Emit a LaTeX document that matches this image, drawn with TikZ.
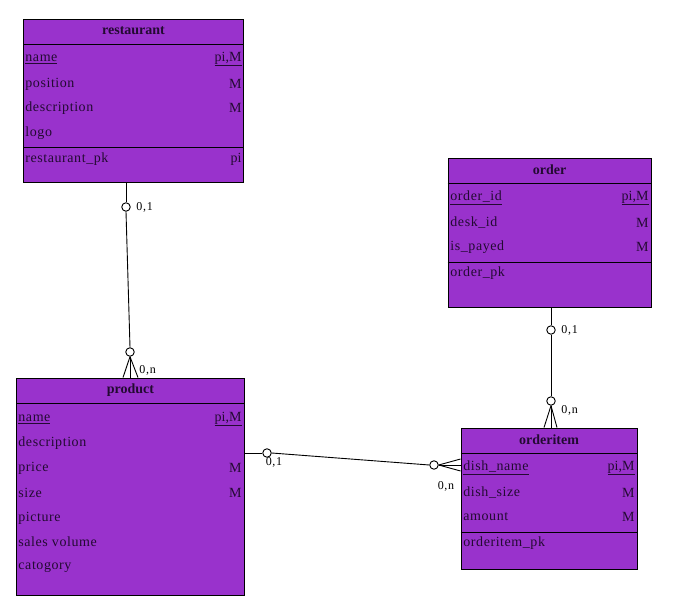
\documentclass[tikz,border=0pt]{standalone}
\usepackage{fontspec}
\setmainfont{Liberation Serif}
\usetikzlibrary{positioning, calc}
\definecolor{entityfill}{RGB}{153,50,204}
\definecolor{entitytext}{RGB}{35,10,50}

\begin{document}
\begin{tikzpicture}[x=1pt, y=-1pt, line width=0.9pt,
      entity/.style={draw=black, fill=entityfill, inner sep=0pt},
      title/.style={inner sep=0pt, font=\fontsize{14}{16}\selectfont\bfseries, text=entitytext},
      attr/.style={anchor=west, inner sep=0pt, yshift=-1pt, font=\fontsize{14}{16}\selectfont\addfontfeature{LetterSpace=4}, text=entitytext},
      key/.style={anchor=east, inner sep=0pt, yshift=-1pt, font=\fontsize{14}{16}\selectfont, text=entitytext},
      card/.style={draw, circle, fill=white, minimum size=8.5pt, inner sep=0pt},
      lbl/.style={inner sep=0pt, font=\fontsize{12}{14}\selectfont\addfontfeature{LetterSpace=6}}
    ]
    \useasboundingbox (0,0) rectangle (678,599);

    % restaurant
    \node[entity, minimum width=220, minimum height=163] (restaurant) at (133.5,100.5) {};
    \node[title] (restaurant-t) at (133.5,31) {restaurant};
    \draw (restaurant.west |- 0,44) -- (restaurant.east |- 0,44);
    \draw (restaurant.west |- 0,147) -- (restaurant.east |- 0,147);
    \node[attr] (restaurant-a1) at (25,58) {\underline{name}};
    \node[key]  (restaurant-k1) at (242,58) {\underline{pi,M}};
    \node[attr] (restaurant-a2) at (25,83) {position};
    \node[key]  (restaurant-k2) at (242,83) {M};
    \node[attr] (restaurant-a3) at (25,107) {description};
    \node[key]  (restaurant-k3) at (242,107) {M};
    \node[attr] (restaurant-a4) at (25,132) {logo};
    \node[attr] (restaurant-a5) at (25,158) {restaurant\_pk};
    \node[key]  (restaurant-k5) at (242,158) {pi};

    % order
    \node[entity, minimum width=203, minimum height=149] (order) at (549.5,232.5) {};
    \node[title] (order-t) at (549.5,170) {order};
    \draw (order.west |- 0,183) -- (order.east |- 0,183);
    \draw (order.west |- 0,262) -- (order.east |- 0,262);
    \node[attr] (order-a1) at (450,197) {\underline{order\_id}};
    \node[key]  (order-k1) at (649,197) {\underline{pi,M}};
    \node[attr] (order-a2) at (450,222) {desk\_id};
    \node[key]  (order-k2) at (649,222) {M};
    \node[attr] (order-a3) at (450,246) {is\_payed};
    \node[key]  (order-k3) at (649,246) {M};
    \node[attr] (order-a4) at (450,272) {order\_pk};

    % product
    \node[entity, minimum width=228, minimum height=217] (product) at (130.5,486.5) {};
    \node[title] (product-t) at (130.5,390) {product};
    \draw (product.west |- 0,403) -- (product.east |- 0,403);
    \node[attr] (product-a1) at (18,418) {\underline{name}};
    \node[key]  (product-k1) at (242,418) {\underline{pi,M}};
    \node[attr] (product-a2) at (18,442) {description};
    \node[attr] (product-a3) at (18,467) {price};
    \node[key]  (product-k3) at (242,467) {M};
    \node[attr] (product-a4) at (18,492) {size};
    \node[key]  (product-k4) at (242,492) {M};
    \node[attr] (product-a5) at (18,517) {picture};
    \node[attr] (product-a6) at (18,541) {sales volume};
    \node[attr] (product-a7) at (18,566) {catogory};

    % orderitem
    \node[entity, minimum width=176, minimum height=141] (orderitem) at (549,498.5) {};
    \node[title] (orderitem-t) at (549,440) {orderitem};
    \draw (orderitem.west |- 0,453) -- (orderitem.east |- 0,453);
    \draw (orderitem.west |- 0,532) -- (orderitem.east |- 0,532);
    \node[attr] (orderitem-a1) at (463,467) {\underline{dish\_name}};
    \node[key]  (orderitem-k1) at (635,467) {\underline{pi,M}};
    \node[attr] (orderitem-a2) at (463,492) {dish\_size};
    \node[key]  (orderitem-k2) at (635,492) {M};
    \node[attr] (orderitem-a3) at (463,516) {amount};
    \node[key]  (orderitem-k3) at (635,516) {M};
    \node[attr] (orderitem-a4) at (463,542) {orderitem\_pk};

    % restaurant - product
    \node[card] (rp1) at (126,207) {};
    \node[card] (rp2) at (130,352) {};
    \node[lbl, anchor=west] (rp1-l) at (136,207) {0,1};
    \node[lbl, anchor=west] (rp2-l) at (139,370) {0,n};
    \draw (restaurant.south -| rp1) -- (rp1.north);
    \draw (rp1.south) -- (rp2.north);
    \draw (rp2.south) -- (rp2.south |- product.north);
    \draw (rp2.south) -- ([xshift=-7pt]rp2.south |- product.north);
    \draw (rp2.south) -- ([xshift=8pt]rp2.south |- product.north);

    % order - orderitem
    \node[card] (oo1) at (551,330) {};
    \node[card] (oo2) at (551,401) {};
    \node[lbl, anchor=west] (oo1-l) at (561,330) {0,1};
    \node[lbl, anchor=west] (oo2-l) at (561,410) {0,n};
    \draw (order.south -| oo1) -- (oo1.north);
    \draw (oo1.south) -- (oo2.north);
    \draw (oo2.south) -- (oo2.south |- orderitem.north);
    \draw (oo2.south) -- ([xshift=-7pt]oo2.south |- orderitem.north);
    \draw (oo2.south) -- ([xshift=6pt]oo2.south |- orderitem.north);

    % product - orderitem
    \node[card] (po1) at (267,453) {};
    \node[card] (po2) at (434,465) {};
    \node[lbl] (po1-l) at (274,462) {0,1};
    \node[lbl] (po2-l) at (446,486) {0,n};
    \draw (product.east |- po1) -- (po1.west);
    \draw (po1.east) -- (po2.west);
    \draw (po2.east) -- (orderitem.west |- po2);
    \draw (po2.east) -- ([yshift=-6pt]orderitem.west |- po2);
    \draw (po2.east) -- ([yshift=6pt]orderitem.west |- po2);

  \end{tikzpicture}
\end{document}
